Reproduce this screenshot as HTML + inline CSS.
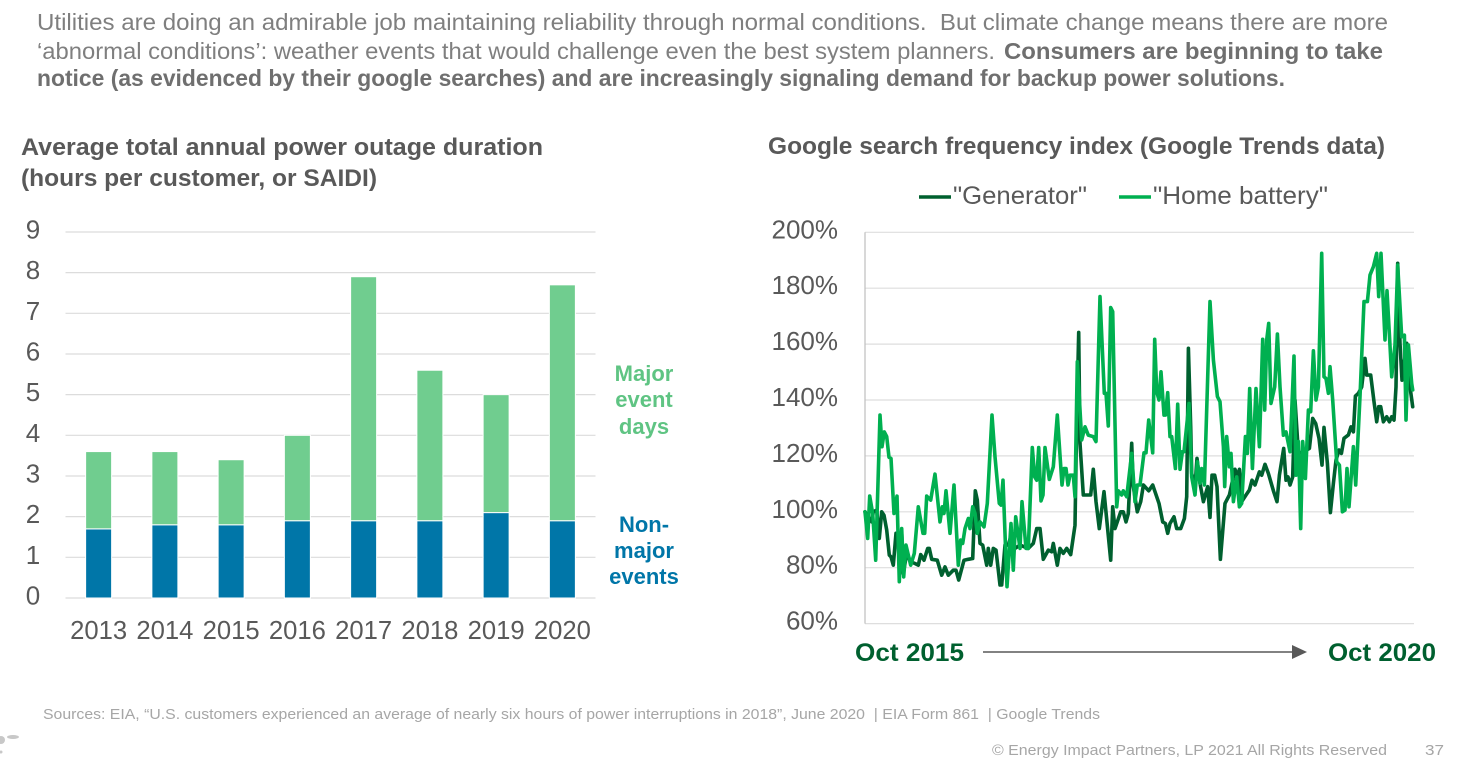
<!DOCTYPE html>
<html lang="en">
<head>
<meta charset="utf-8">
<title>Power outage duration and Google search frequency</title>
<style>
html,body{margin:0;padding:0;background:#fff;}
body{width:1459px;height:760px;overflow:hidden;}
svg{display:block;}
text{font-family:"Liberation Sans",sans-serif;white-space:pre;}
.lead{font-size:23px;fill:#7f7f7f;}
.leadb{font-size:23px;fill:#6f6f6f;font-weight:bold;}
.title{font-size:24px;fill:#595959;font-weight:bold;}
.tick{font-size:26px;fill:#595959;}
.seriesl{font-size:22px;font-weight:bold;text-anchor:middle;}
.range{font-size:25px;fill:#00602f;font-weight:bold;}
.foot{font-size:15px;fill:#a6a6a6;}
</style>
</head>
<body>
<svg id="page" xmlns="http://www.w3.org/2000/svg" width="1459" height="760" viewBox="0 0 1459 760">
  <g>
    <text class="lead" x="37" y="30" textLength="1351" lengthAdjust="spacingAndGlyphs">Utilities are doing an admirable job maintaining reliability through normal conditions.  But climate change means there are more</text>
    <text class="lead" x="37" y="59" textLength="958" lengthAdjust="spacingAndGlyphs">‘abnormal conditions’: weather events that would challenge even the best system planners.</text>
    <text class="leadb" x="1004" y="59" textLength="379" lengthAdjust="spacingAndGlyphs">Consumers are beginning to take</text>
    <text class="leadb" x="37" y="86" textLength="1248" lengthAdjust="spacingAndGlyphs">notice (as evidenced by their google searches) and are increasingly signaling demand for backup power solutions.</text>
  </g>

  <text class="title" x="21" y="155" textLength="522" lengthAdjust="spacingAndGlyphs">Average total annual power outage duration</text>
  <text class="title" x="21" y="186" textLength="356" lengthAdjust="spacingAndGlyphs">(hours per customer, or SAIDI)</text>
  <text class="title" x="768" y="154" textLength="617" lengthAdjust="spacingAndGlyphs">Google search frequency index (Google Trends data)</text>

  <g id="bar-chart"></g>

  <g>
    <text class="seriesl" x="644" y="381" fill="#5fc483">Major</text>
    <text class="seriesl" x="644" y="407" fill="#5fc483">event</text>
    <text class="seriesl" x="644" y="434" fill="#5fc483">days</text>
  </g>
  <g>
    <text class="seriesl" x="644" y="532" fill="#0076a8">Non-</text>
    <text class="seriesl" x="644" y="558" fill="#0076a8">major</text>
    <text class="seriesl" x="644" y="584" fill="#0076a8">events</text>
  </g>

  <g>
    <line x1="919" y1="197" x2="951" y2="197" stroke="#00602f" stroke-width="3.5"/>
    <text x="953" y="204" font-size="25" fill="#595959" textLength="134" lengthAdjust="spacingAndGlyphs">"Generator"</text>
    <line x1="1119" y1="197" x2="1151" y2="197" stroke="#00b050" stroke-width="3.5"/>
    <text x="1153" y="204" font-size="25" fill="#595959" textLength="175" lengthAdjust="spacingAndGlyphs">"Home battery"</text>
  </g>

  <g id="line-chart"></g>

  <text class="range" x="855" y="661" textLength="109" lengthAdjust="spacingAndGlyphs">Oct 2015</text>
  <g>
    <line x1="983" y1="652" x2="1295" y2="652" stroke="#595959" stroke-width="1.5"/>
    <polygon points="1292,645 1307,652 1292,659" fill="#595959"/>
  </g>
  <text class="range" x="1328" y="661" textLength="108" lengthAdjust="spacingAndGlyphs">Oct 2020</text>

  <text class="foot" x="43" y="719" textLength="1057" lengthAdjust="spacingAndGlyphs">Sources: EIA, “U.S. customers experienced an average of nearly six hours of power interruptions in 2018”, June 2020  | EIA Form 861  | Google Trends</text>
  <text class="foot" x="992" y="755" textLength="395" lengthAdjust="spacingAndGlyphs">© Energy Impact Partners, LP 2021 All Rights Reserved</text>
  <text class="foot" x="1425" y="755" textLength="19" lengthAdjust="spacingAndGlyphs">37</text>
  <g fill="#c8c8c8">
    <circle cx="1" cy="740" r="4"/>
    <ellipse cx="13" cy="737" rx="6" ry="2"/>
    <circle cx="1" cy="752" r="1.5"/>
  </g>
</svg>

<script>
// Bar chart data
var barCategories = ['2013','2014','2015','2016','2017','2018','2019','2020'];
var nonMajorHours = [1.7,1.8,1.8,1.9,1.9,1.9,2.1,1.9];
var majorHours = [1.9,1.8,1.6,2.1,6.0,3.7,2.9,5.8];
var barTicks = [0,1,2,3,4,5,6,7,8,9];

// Line chart data
var lineTicks = [60,80,100,120,140,160,180,200];
var generatorTime = [0,20,25,35,43,50,57,65,73,78,85,93,103,110,115,125,137,150,160,167,177,188,193,200,217,230,240,250,265,273,281,297,310,323,331,337,345,353,365,370,377,385,393,405,410,420,430,440,450,465,490,505,515,525,535,550,560,565,577,585,595,605,617,630,635,641,645,655,677,685,693,703,717,737,743,750,767,775,783,790,800,805,817,827,835,851,863,870,882,893,901,908,915,927,935,947,958,965,970,977,980,990,996,1005,1015,1028,1035,1041,1049,1056,1066,1080,1093,1110,1117,1123,1130,1143,1153,1161,1170,1183,1190,1200,1210,1225,1236,1243,1256,1263,1269,1275,1283,1290,1300,1315,1333,1343,1352,1362,1371,1377,1387,1396,1405,1413,1422,1429,1437,1450,1458,1465,1471,1480,1490,1500,1505,1517,1527,1535,1541,1547,1555,1565,1573,1580,1587,1593,1598,1605,1611,1625,1635,1643];
var generatorIndex = [100,96.4,100,100.6,90.5,100,98.8,93.5,84.5,83.9,80.9,92.3,89.9,92.3,77.9,85.1,82.1,81.5,80.9,84.7,82.7,86.9,86.9,83,82.7,77.3,80.3,77.3,79.1,79.1,75.6,82.7,83,83.3,107.5,104.2,88.7,88.1,80.9,86.9,80.9,86.9,86.3,73.8,73.8,88.1,88.1,92.3,86.9,88.1,86.9,88.7,94,94,83,86.3,85.7,88.7,80.9,86.9,85.1,86.9,84.7,95.2,132.8,164.2,124.5,106,106,115.2,103.6,94,107.2,82.7,101.8,94,100,100,96.4,99.4,124.5,109,100,103.6,109.6,107.5,109.6,107.2,103,96.4,95.8,92.3,95.8,98.2,94,94,97.6,105.4,158.5,130.4,113.7,109,119.1,110.2,103.6,109,98,113.1,113.1,109,83,103,106,115.2,112.5,115.2,103.6,106,107.8,111.3,109.6,114.3,113.1,117,113.7,107.5,103.6,113.1,122.7,111.3,112.5,109.6,112.5,140,120.9,121.5,122.7,133.4,131.6,126.3,116.7,130.2,117.3,99.7,110.2,118.5,122.1,120.9,126.3,127.5,130.4,128.6,141.4,142.4,144.7,154.9,148.9,148.9,139.4,132.2,137.6,137.6,132.2,134,132.2,134,132.8,144.7,188.9,160.3,147.1,160.3,144.7,137.6];
var batteryTime = [0,8,14,23,32,45,51,58,65,72,78,87,96,103,110,116,123,137,148,160,174,179,185,197,210,225,232,237,243,255,267,280,287,293,300,310,315,323,330,337,345,357,367,381,390,403,408,414,426,438,445,452,465,471,483,490,502,509,515,521,528,534,540,553,565,577,591,597,603,609,615,625,630,637,650,660,670,685,693,705,718,723,730,737,743,755,760,770,775,785,800,810,817,825,837,843,851,863,869,875,882,888,897,901,908,915,920,931,938,945,952,957,972,980,990,997,1005,1010,1018,1035,1045,1057,1065,1075,1079,1085,1093,1098,1105,1115,1123,1130,1141,1147,1154,1162,1173,1183,1193,1199,1205,1211,1218,1229,1237,1245,1255,1263,1275,1287,1293,1300,1307,1313,1321,1330,1337,1345,1353,1360,1370,1377,1383,1390,1395,1403,1415,1423,1432,1440,1446,1452,1465,1472,1485,1497,1507,1515,1525,1535,1541,1548,1560,1566,1580,1590,1598,1610,1618,1623,1630,1640,1643];
var batteryIndex = [100,90.5,105.6,99.4,82.7,134.6,123.3,128.6,126.9,119.5,119.1,99.4,105.6,75,94,76.7,88.1,80.9,85.1,101.8,92.3,92.3,105.6,104.2,113.5,96.4,101.8,99.4,107.5,92.3,109.6,80.9,89.9,88.7,94,97.6,94,101.8,99.4,92.3,96.4,94.6,103,134.6,119.7,103,102.4,111.3,73.2,95.8,79.1,98.2,86.9,103.6,86.9,86.9,123,112.5,111.3,123,103.9,106,123,111.6,116.1,134.6,109.6,115.5,115.5,109.6,113.1,113.1,105.4,153.7,125.7,130.4,127.4,126.9,125.1,177,142.4,142.4,130.7,173.1,171.6,101.8,107.5,106,107.5,105.4,120.9,103.6,109.6,109.6,121.1,121.1,132.8,121.1,161.7,143,140,150.1,134.6,134.6,142.6,126.9,126.9,115.5,138.5,115.2,121.5,121.5,138.8,112.5,106,117.9,110.2,115.5,109.6,175.2,154.3,141.2,139.4,123.3,109,126.9,116.1,120.9,103.6,112.5,101.8,103,126.9,120.9,144.1,115.5,144.1,123.3,161.7,136.4,161.5,167.4,138.8,144.7,163.6,144.7,127.4,128.6,121.5,155.7,113.1,125.1,94,125.1,111.9,136.4,135.8,157.6,140,144.7,192.5,148.3,147.7,142.4,151.9,140,117.9,116.7,100,100.6,115.5,101.8,123.3,109.6,141.2,175.2,175.2,184.7,187.7,192.5,177,192.5,161.5,179.1,148.3,159.7,188.3,162.6,163.2,132.8,159.7,145.9,143.6];

var NS = 'http://www.w3.org/2000/svg';
function mk(parent, tag, attrs, txt) {
  var el = document.createElementNS(NS, tag);
  for (var k in attrs) el.setAttribute(k, attrs[k]);
  if (txt !== undefined) el.textContent = txt;
  parent.appendChild(el);
  return el;
}

// Bar chart axes
var barGroup = document.getElementById('bar-chart');
var barLeft = 65.5, barRight = 595.5, barBase = 598, barUnit = 40.67;
function barY(v) { return barBase - v * barUnit; }
function barX(i) { return barLeft + (barRight - barLeft) / barCategories.length * (i + 0.5); }

barTicks.forEach(function (t) {
  var g = mk(barGroup, 'line', {x1: barLeft, x2: barRight, y1: barY(t), y2: barY(t), stroke: '#dcdcdc', 'stroke-width': 1.2});
  
  
  var l = mk(barGroup, 'text', {'class': 'tick', x: 33, y: barY(t) + 6.5, 'text-anchor': 'middle'}, String(t));
  
  
});

barCategories.forEach(function (c, i) {
  var w = 26;
  var a = mk(barGroup, 'rect', {x: barX(i) - w / 2, y: barY(nonMajorHours[i]), width: w, height: barY(0) - barY(nonMajorHours[i]), fill: '#0076a8', stroke: '#fff', 'stroke-width': 1});
  
  
  var top = nonMajorHours[i] + majorHours[i];
  var b = mk(barGroup, 'rect', {x: barX(i) - w / 2, y: barY(top), width: w, height: barY(nonMajorHours[i]) - barY(top), fill: '#70cd8f', stroke: '#fff', 'stroke-width': 1});
  
  
  var l = mk(barGroup, 'text', {'class': 'tick', x: barX(i), y: 639, 'text-anchor': 'middle', textLength: 57, lengthAdjust: 'spacingAndGlyphs'}, c);
  
  
});

// Line chart axes
var lineGroup = document.getElementById('line-chart');
var lineLeft = 865, lineRight = 1414, timeMax = 1643, plotEnd = 1412.7;
function lineX(t) { return lineLeft + (plotEnd - lineLeft) * t / timeMax; }
function lineY(v) { return 232.3 + (200 - v) * 2.795; }

lineTicks.forEach(function (t) {
  var g = mk(lineGroup, 'line', {x1: lineLeft, x2: lineRight, y1: lineY(t), y2: lineY(t), stroke: '#dedede', 'stroke-width': 1.2});
  
  
  var l = mk(lineGroup, 'text', {'class': 'tick', x: 838, y: lineY(t) + 6, 'text-anchor': 'end'}, t + '%');
  
  
});
var axis = mk(lineGroup, 'line', {x1: lineLeft, x2: lineLeft, y1: lineY(200), y2: lineY(60), stroke: '#bfbfbf', 'stroke-width': 1.2});



function linePoints(times, values) {
  return times.map(function (t, i) { return lineX(t).toFixed(1) + ',' + lineY(values[i]).toFixed(1); }).join(' ');
}
var genLine = mk(lineGroup, 'polyline', {points: linePoints(generatorTime, generatorIndex), fill: 'none', stroke: '#00602f', 'stroke-width': 3.6, 'stroke-linejoin': 'round', 'stroke-linecap': 'round'});


var batLine = mk(lineGroup, 'polyline', {points: linePoints(batteryTime, batteryIndex), fill: 'none', stroke: '#00b050', 'stroke-width': 3.6, 'stroke-linejoin': 'round', 'stroke-linecap': 'round'});


</script>
</body>
</html>
